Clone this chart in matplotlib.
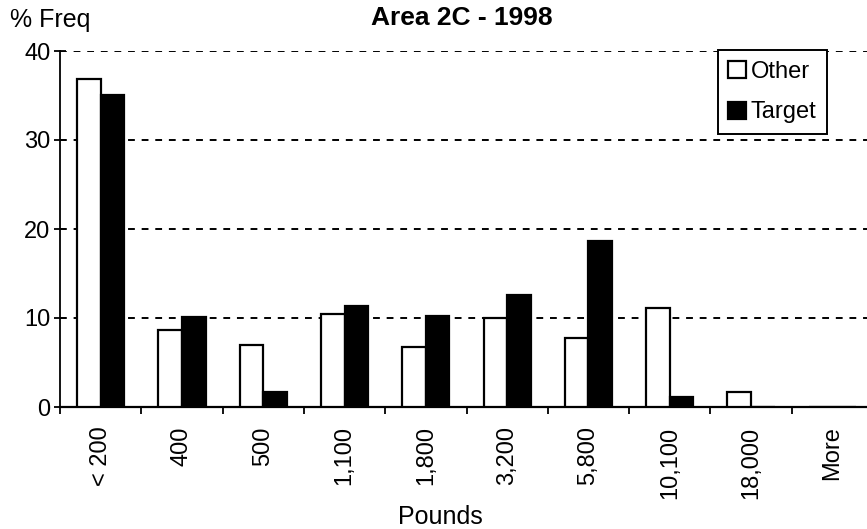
import matplotlib
matplotlib.use('Agg')
import matplotlib.pyplot as plt
import numpy as np

plt.rcParams['font.family'] = ['Liberation Sans', 'DejaVu Sans']

categories = ['< 200', '400', '500', '1,100', '1,800', '3,200', '5,800',
    '10,100', '18,000', 'More']
other = [36.8, 8.7, 7.0, 10.5, 6.7, 10.0, 7.8, 11.1, 1.7, 0.0]
target = [35.1, 10.1, 1.7, 11.3, 10.2, 12.6, 18.6, 1.1, 0.0, 0.0]
yticks = [0, 10, 20, 30, 40]

fig = plt.figure(figsize=(8.67, 5.29), dpi=100)
ax = fig.add_axes([60 / 867, 122 / 529, 813 / 867, 356 / 529])

x = np.arange(len(categories))
w = 0.29
ax.bar(x - w / 2, other, w, color='white', edgecolor='black', lw=1.6,
    label='Other', zorder=3)
ax.bar(x + w / 2, target, w, color='black', edgecolor='black', lw=1.6,
    label='Target', zorder=3)

ax.set_xlim(-0.5, len(categories) - 0.5)
ax.set_ylim(0, 40)
ax.set_yticks(yticks)
ax.tick_params(axis='y', labelsize=17, direction='inout', length=8,
    width=1.3, pad=3)

# ticks between categories, labels at centres
ax.set_xticks(np.arange(len(categories) + 1) - 0.5)
ax.set_xticklabels([])
ax.set_xticks(x, minor=True)
ax.set_xticklabels(categories, minor=True, rotation=90, fontsize=17)
ax.tick_params(axis='x', which='major', direction='out', length=5, width=1.3)
ax.tick_params(axis='x', which='minor', length=0, pad=14)

for v in yticks[1:]:
    ax.axhline(v, color='black', lw=1.4, ls=(0, (3.5, 3.5)), zorder=1)

for s in ['top', 'right']:
    ax.spines[s].set_visible(False)
ax.spines['left'].set_linewidth(1.3)
ax.spines['bottom'].set_linewidth(1.6)

fig.text(462 / 867, 1 - 18 / 529, 'Area 2C - 1998', fontsize=19,
    fontweight='bold', ha='center', va='center')
fig.text(10 / 867, 1 - 20 / 529, '% Freq', fontsize=18, va='center')
fig.text(440 / 867, 1 - 517 / 529, 'Pounds', fontsize=18, ha='center',
    va='center')

legend = ax.legend(loc='upper right', bbox_to_anchor=(767 / 813, 1.003),
    fontsize=17, frameon=True, fancybox=False, edgecolor='black',
    handlelength=0.75, handleheight=0.75, handletextpad=0.2,
    borderpad=0.45, labelspacing=0.8, borderaxespad=0)
legend.get_frame().set_linewidth(1.4)
legend.get_frame().set_alpha(1)

fig.savefig('out.png', dpi=100, facecolor='w')
